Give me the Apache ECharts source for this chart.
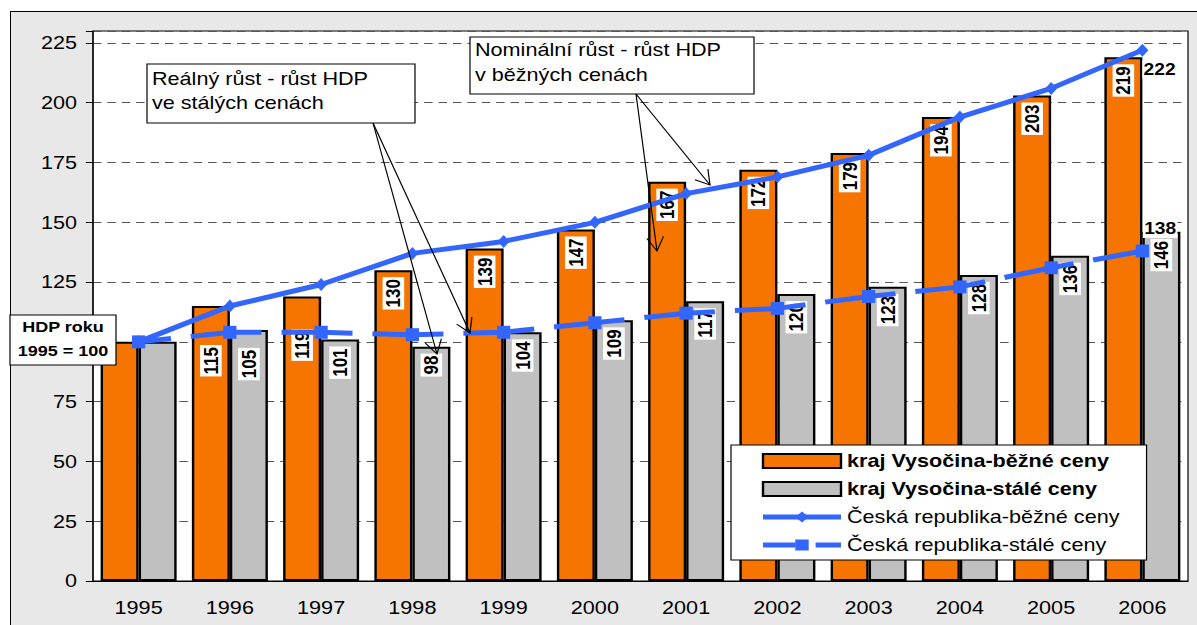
<!DOCTYPE html>
<html>
<head>
<meta charset="utf-8">
<title>HDP kraj Vysočina</title>
<script src="https://cdn.jsdelivr.net/npm/echarts@6/dist/echarts.min.js"></script>
<style>
  body { margin: 0; background: #fff; overflow: hidden; }
  #frame { position: absolute; left: 10px; top: 11px; width: 1300px; height: 700px;
           border: 1px solid #000; background: #e8e8e8; }
  /* the source picture is stretched horizontally, so the chart is too */
  #main { position: absolute; left: 0; top: 0; width: 998px; height: 625px;
          transform: scaleX(1.2); transform-origin: 0 0; }
</style>
</head>
<body>
<div id="frame"></div>
<div id="main"></div>
<script>
// data (HDP roku 1995 = 100)
const years = ['1995', '1996', '1997', '1998', '1999', '2000', '2001', '2002', '2003', '2004', '2005', '2006'];
const krajBezne = [100, 115, 119, 130, 139, 147, 167, 172, 179, 194, 203, 219];
const krajStale = [100, 105, 101, 98, 104, 109, 117, 120, 123, 128, 136, 146];
const crBezne = [100, 115, 124, 137, 142, 150, 162, 169, 178, 194, 206, 222];
const crStale = [100, 104, 104, 103, 104, 108, 112, 114, 119, 123, 131, 138];
const seriesNames = ['kraj Vysočina-běžné ceny', 'kraj Vysočina-stálé ceny',
                     'Česká republika-běžné ceny', 'Česká republika-stálé ceny'];

const SX = 1.2;                 // horizontal stretch
const X = x => x / SX;          // picture x -> chart x
const FONT = '"Liberation Sans", Arial, sans-serif';
const ORANGE = '#F67500', GRAY = '#C0C0C0', BLUE = '#3366FF';
const last = years.length - 1;

// labels that were pushed down below the lines in the original
const LABEL_GAP = 7;
const bezneLabelGap = { 1: 39, 2: 33 };
const staleLabelGap = { 1: 18 };

function barLabel() {
    return {
        show: true, position: 'insideTop', distance: LABEL_GAP, rotate: 90,
        align: 'right', verticalAlign: 'middle',
        fontFamily: FONT, fontSize: 17, fontWeight: 'bold', color: '#000',
        backgroundColor: '#fff', padding: [1, 2, 0, 2]
    };
}
function barData(arr, gaps) {
    return arr.map((v, i) => {
        if (i === 0) return { value: v, label: { show: false } };   // base year
        if (gaps[i]) return { value: v, label: { distance: gaps[i] } };
        return v;
    });
}
function lineData(arr, offsetY) {
    return arr.map((v, i) => i !== last ? v : {
        value: v,
        label: {
            show: true, position: 'right', distance: 0, offset: [-5, offsetY],
            fontFamily: FONT, fontSize: 16, fontWeight: 'bold', color: '#000',
            backgroundColor: '#fff', padding: [1, 1]
        }
    });
}

function arrow(x1, y1, x2, y2) {
    const a = Math.atan2(y2 - y1, x2 - x1);
    const L = 16, w = 0.55;
    const h1 = [x2 - L * Math.cos(a - w), y2 - L * Math.sin(a - w)];
    const h2 = [x2 - L * Math.cos(a + w), y2 - L * Math.sin(a + w)];
    return [
        { type: 'line', z: 100, shape: { x1: X(x1), y1: y1, x2: X(x2), y2: y2 },
          style: { stroke: '#000', lineWidth: 1 } },
        { type: 'polyline', z: 100,
          shape: { points: [[X(h1[0]), h1[1]], [X(x2), y2], [X(h2[0]), h2[1]]] },
          style: { stroke: '#000', fill: null, lineWidth: 1 } }
    ];
}
function note(x1, y1, x2, y2, text, textX, textY, lh) {
    return [
        { type: 'rect', z: 100, shape: { x: X(x1), y: y1, width: X(x2 - x1), height: y2 - y1 },
          style: { fill: '#fff', stroke: '#000', lineWidth: 1 } },
        { type: 'text', z: 101, x: X(textX), y: textY,
          style: { text: text, fontFamily: FONT, fontSize: 18, lineHeight: lh, fill: '#000' } }
    ];
}

const graphics = [].concat(
    arrow(373, 123, 437, 354),
    arrow(373, 123, 470, 333),
    arrow(636, 94, 710, 185),
    arrow(636, 94, 657, 251),
    note(147, 64, 415, 123, 'Reálný růst - růst HDP\nve stálých cenách', 152, 67, 24),
    note(470, 37, 754, 94, 'Nominální růst - růst HDP\nv běžných cenách', 475, 37, 25),
    [
        { type: 'rect', z: 100, shape: { x: X(10), y: 315, width: X(106), height: 50 },
          style: { fill: '#fff', stroke: '#000', lineWidth: 1 } },
        { type: 'text', z: 101, x: X(63), y: 327,
          style: { text: 'HDP roku', align: 'center', verticalAlign: 'middle',
                   fontFamily: FONT, fontSize: 15, fontWeight: 'bold', fill: '#000' } },
        { type: 'text', z: 101, x: X(63), y: 351,
          style: { text: '1995 = 100', align: 'center', verticalAlign: 'middle',
                   fontFamily: FONT, fontSize: 15, fontWeight: 'bold', fill: '#000' } }
    ]
);

const chart = echarts.init(document.getElementById('main'), null, { renderer: 'svg' });

const option = {
    animation: false,
    textStyle: { fontFamily: FONT },
    grid: {
        left: X(93), top: 31, width: X(1188 - 93), height: 550,
        show: true, backgroundColor: '#fff', borderColor: '#000', borderWidth: 1
    },
    legend: {
        orient: 'vertical', left: X(731), top: 445,
        padding: [6, X(27), 5, X(29)],
        itemWidth: X(78), itemHeight: 14, itemGap: 8,
        backgroundColor: '#fff', borderColor: '#000', borderWidth: 1,
        textStyle: { fontFamily: FONT, fontSize: 18, color: '#000', lineHeight: 20 },
        data: [
            { name: seriesNames[0], icon: 'rect', textStyle: { fontWeight: 'bold' } },
            { name: seriesNames[1], icon: 'rect', textStyle: { fontWeight: 'bold' } },
            { name: seriesNames[2], lineStyle: { width: 5 } },
            { name: seriesNames[3], lineStyle: { width: 5 } }
        ]
    },
    xAxis: {
        type: 'category', data: years,
        axisLine: { lineStyle: { color: '#000', width: 1 } },
        axisTick: { length: 6, lineStyle: { color: '#000' } },
        axisLabel: { color: '#000', fontFamily: FONT, fontSize: 18, margin: 18 }
    },
    yAxis: {
        type: 'value', min: 0, max: 230, interval: 25,
        axisLine: { show: true, lineStyle: { color: '#000' } },
        axisTick: { show: true, length: 6, lineStyle: { color: '#000' } },
        axisLabel: {
            color: '#000', fontFamily: FONT, fontSize: 18, margin: X(16),
            // 100 sits under the "HDP roku" box; 230 is only the top of the plot
            formatter: v => (v % 25 === 0 && v !== 100) ? String(v) : ''
        },
        splitLine: { lineStyle: { color: '#555', width: 1, type: [7, 5] } }
    },
    series: [
        {
            name: seriesNames[0], type: 'bar', barWidth: X(38), barGap: '0%',
            data: barData(krajBezne, bezneLabelGap),
            itemStyle: { color: ORANGE, borderColor: '#000', borderWidth: 2 },
            label: barLabel()
        },
        {
            name: seriesNames[1], type: 'bar', barWidth: X(38), barGap: '0%',
            data: barData(krajStale, staleLabelGap),
            itemStyle: { color: GRAY, borderColor: '#000', borderWidth: 2 },
            label: barLabel()
        },
        {
            name: seriesNames[2], type: 'line', z: 5,
            data: lineData(crBezne, 19),
            symbol: 'diamond', symbolSize: [10, 13],
            lineStyle: { color: BLUE, width: 5 },
            itemStyle: { color: BLUE }
        },
        {
            name: seriesNames[3], type: 'line', z: 5,
            data: lineData(crStale, -22),
            symbol: 'rect', symbolSize: [11, 13],
            lineStyle: { color: BLUE, width: 5, type: [X(71), X(20)], dashOffset: X(71) - X(33) },
            itemStyle: { color: BLUE }
        }
    ],
    graphic: graphics
};

chart.setOption(option);
</script>
</body>
</html>
